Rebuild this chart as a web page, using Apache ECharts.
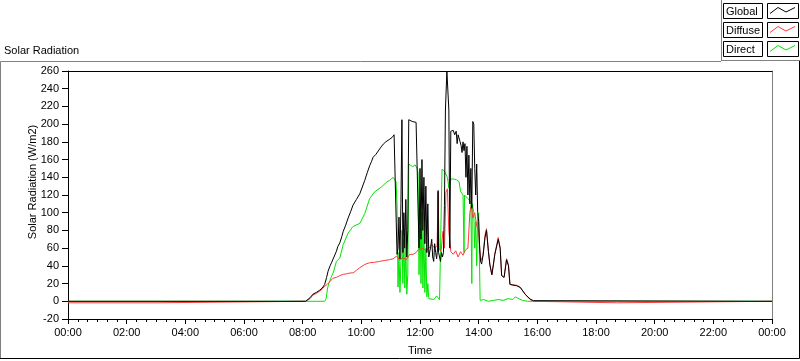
<!DOCTYPE html>
<html>
<head>
<meta charset="utf-8">
<script src="https://cdn.jsdelivr.net/npm/echarts@6/dist/echarts.min.js"></script>
<style>
  html, body { margin: 0; padding: 0; background: #fff; }
  #chart { width: 800px; height: 361px; }
</style>
</head>
<body>
<div id="chart"></div>
<script>
// time in minutes after midnight, values in W/m2
const globalTimes = [0, 486, 488, 495, 501, 508, 515, 520, 525, 529, 532, 536, 539, 544, 549, 552, 556, 560, 563, 568, 573, 578, 583, 590, 597, 602, 607, 612, 617, 621, 624, 630, 634, 640, 645, 650, 653, 658, 663, 667, 669, 671, 673,
  675, 677, 679, 681, 683, 685, 687, 689, 691, 693, 695, 697, 700, 704, 708, 712, 716, 718,
  720, 722, 724, 726, 728, 730, 732, 734, 736, 738, 740, 742, 744, 746, 748, 750, 752, 754, 756, 757, 758, 760, 762, 764, 766,
  768, 770, 772, 775, 777, 779, 781, 783, 785, 788, 791, 794, 796, 798, 800, 802, 804, 806, 808, 810, 812, 814, 816, 818, 820, 822, 824, 826, 828, 830, 832, 834, 836, 838, 840, 842, 844,
  846, 849, 853, 856, 860, 863, 867, 870, 873, 880, 884, 887, 892, 897, 901, 904, 908, 918, 925, 935, 945, 952, 955, 1440];
const globalValues = [0, 0, 0.5, 4, 8, 10, 12.6, 15, 19, 27, 34, 40, 43.5, 50, 56.5, 62, 66, 73, 79, 86, 94, 101, 108.6, 115, 121.6, 129, 136.5, 145, 153, 158, 162.6, 166, 168, 174, 177.5, 180, 182, 183, 185, 188, 189, 186, 53,
  60, 95, 48, 110, 205, 55, 100, 60, 115, 50, 80, 205, 206, 203, 205, 202, 200, 60,
  150, 70, 160, 80, 140, 65, 130, 55, 110, 50, 48, 62, 70, 50, 45, 65, 55, 48, 60, 125, 55, 50, 45, 55, 50,
  55, 108, 216, 260, 258, 216, 60, 192, 190, 193, 188, 192, 178, 188, 190, 180, 176, 168, 180, 170, 178, 140, 175, 120, 165, 110, 150, 105, 203, 200, 150, 120, 155, 100, 90, 60, 45,
  42, 52, 72, 80, 56, 41, 30, 41, 53, 70, 60, 29, 27, 47, 40, 19, 17.5, 17.5, 15.6, 8, 2.6, 0.7, 0, 0];

const diffuseTimes = [0, 180, 181, 486, 488, 495, 501, 508, 515, 520, 525, 530, 537, 542, 549, 556, 563, 570, 577, 583, 590, 597, 607, 617, 627, 637, 647, 658, 665, 672, 678, 685, 692, 699, 706, 712, 716, 720, 726, 732, 738, 744, 750, 755, 757, 759, 763, 767, 770, 773, 776, 779, 783,
  788, 793, 798, 803, 808, 813, 818, 822, 825, 828, 832, 836, 840, 844, 849, 853, 856, 860, 863, 867, 870, 873, 880, 884, 887, 892, 897, 901, 904, 908, 918, 925, 935, 945, 952, 955, 1122, 1124, 1440];
const diffuseValues = [-1.7, -1.7, 0, 0, 0, 3, 7, 9, 11.5, 14, 17, 19, 23, 26, 27, 29, 30.5, 31, 32, 32, 35, 38, 41.6, 43.5, 44, 45, 46, 47, 48, 51, 47, 49, 47, 53, 53, 55, 58, 56, 60, 57, 60, 64, 60, 63, 123, 60, 56, 79, 60, 123, 127, 79, 56,
  53, 57, 50, 56, 52, 58, 60, 100, 109, 94, 100, 85, 80, 45, 52, 75, 82, 56, 41, 30, 41, 53, 72, 60, 29, 27, 48, 41, 19, 18, 18, 16, 8, 2, 0, -1.7, -1.7, 0, 0];

const directTimes = [0, 525, 528, 531, 534, 539, 543, 549, 556, 563, 573, 583, 597, 607, 617, 627, 641, 652, 658, 665, 669, 671, 673,
  675, 677, 679, 681, 683, 685, 687, 689, 691, 693, 695, 697, 700, 705, 710, 714, 716, 718, 720, 722, 724, 726, 728, 730, 732, 734, 736, 738, 742, 748, 754, 760, 764,
  765, 770, 773, 776, 779, 781, 785, 790, 795, 800, 803, 806, 808, 810, 811, 814, 818, 821, 824, 826, 827, 830, 832, 834, 836, 838, 840, 842, 843,
  850, 860, 870, 880, 890, 900, 910, 915, 918, 922, 930, 940, 1440];
const directValues = [0, 0, 3, 15, 21, 28, 33, 45, 49, 64, 77, 84.5, 88, 99, 116, 123.5, 129, 134.7, 136.5, 140, 142, 135, 110,
  16, 55, 10, 45, 80, 20, 70, 15, 60, 8, 30, 155, 155, 152, 154, 150, 145, 30, 110, 20, 100, 15, 80, 10, 60, 5, 20, 3, 5, 2, 6, 2, 3,
  149, 147, 146, 140, 128, 138, 137, 138, 137, 135, 124, 122, 120, 55, 120, 118, 116, 115, 112, 20, 110, 100, 60, 90, 40, 95, 100, 100, 1,
  2, 0, 1, 2, 1, 3, 2, 5, 6, 3, 1, 0, 0];

const seriesNames = ['Global', 'Diffuse', 'Direct'];
const seriesColors = ['#000000', '#ff3c3c', '#00e600'];

const font = '"Liberation Sans", Arial, sans-serif';
const pair = (ts, vs) => ts.map((t, i) => [t, vs[i]]);

const fmtTime = (v) => {
  const m = Math.round(v) % 1440;
  return String(Math.floor(m / 60)).padStart(2, '0') + ':' + String(m % 60).padStart(2, '0');
};

// legend drawn like the original instrument panel (boxed label + boxed sample)
const legendGraphics = [
  { type: 'line', shape: { x1: 721.5, y1: 0, x2: 721.5, y2: 61 }, style: { stroke: '#808080', lineWidth: 1 } }
];
seriesNames.forEach((name, i) => {
  const y0 = 3.5 + i * 19;
  legendGraphics.push(
    { type: 'rect', shape: { x: 723.5, y: y0, width: 39, height: 15 }, style: { fill: '#fff', stroke: '#000', lineWidth: 1 } },
    { type: 'text', x: 726, y: y0 + 8, style: { text: name, font: '11px ' + font, fill: '#000', textVerticalAlign: 'middle' } },
    { type: 'rect', shape: { x: 767.5, y: y0, width: 31, height: 15 }, style: { fill: '#fff', stroke: '#000', lineWidth: 1 } },
    { type: 'polyline', shape: { points: [[770, y0 + 10], [778, y0 + 4], [786, y0 + 8.5], [795, y0 + 4]] }, style: { stroke: seriesColors[i], lineWidth: 1, fill: null } }
  );
});

const frameGraphics = [
  { type: 'polyline', shape: { points: [[0.5, 359], [0.5, 61.5], [721, 61.5]] }, style: { stroke: '#808080', lineWidth: 1, fill: null } },
  { type: 'line', shape: { x1: 721, y1: 60.5, x2: 800, y2: 60.5 }, style: { stroke: '#808080', lineWidth: 1 } },
  { type: 'polyline', shape: { points: [[0, 358.5], [799.5, 358.5], [799.5, 61]] }, style: { stroke: '#000', lineWidth: 1, fill: null } }
];

const chart = echarts.init(document.getElementById('chart'), null, { renderer: 'canvas' });

chart.setOption({
  animation: false,
  backgroundColor: '#fff',
  title: {
    text: 'Solar Radiation',
    left: 4,
    top: 45,
    padding: 0,
    textStyle: { fontSize: 11, fontWeight: 'normal', color: '#000', fontFamily: font }
  },
  grid: { left: 68, top: 71, right: 28, bottom: 39 },
  xAxis: [
    {
      type: 'value',
      min: 0,
      max: 1440,
      interval: 120,
      name: 'Time',
      nameLocation: 'middle',
      nameGap: 26,
      nameMoveOverlap: false,
      nameTextStyle: { fontSize: 11, color: '#000', fontFamily: font },
      axisLine: { onZero: false, lineStyle: { color: '#000', width: 1 } },
      axisTick: { length: 5, lineStyle: { color: '#000' } },
      minorTick: { show: true, splitNumber: 6, length: 3, lineStyle: { color: '#000' } },
      axisLabel: { margin: 8, fontSize: 11, color: '#000', fontFamily: font, formatter: fmtTime, showMaxLabel: true, showMinLabel: true },
      splitLine: { show: false }
    },
    {
      type: 'value',
      position: 'top',
      min: 0,
      max: 1440,
      axisLine: { onZero: false, lineStyle: { color: '#000', width: 1 } },
      axisTick: { show: false },
      axisLabel: { show: false },
      splitLine: { show: false }
    }
  ],
  yAxis: [
    {
      type: 'value',
      min: -20,
      max: 260,
      interval: 20,
      name: 'Solar Radiation (W/m2)',
      nameLocation: 'middle',
      nameGap: 30,
      nameMoveOverlap: false,
      nameTextStyle: { fontSize: 11, color: '#000', fontFamily: font, padding: [0, 0, 0, 26] },
      axisLine: { show: true, onZero: false, lineStyle: { color: '#000', width: 1 } },
      axisTick: { show: true, length: 6, lineStyle: { color: '#000' } },
      axisLabel: { margin: 9, fontSize: 11, color: '#000', fontFamily: font },
      splitLine: { show: false }
    },
    {
      type: 'value',
      position: 'right',
      min: -20,
      max: 260,
      axisLine: { show: true, onZero: false, lineStyle: { color: '#808080', width: 1 } },
      axisTick: { show: false },
      axisLabel: { show: false },
      splitLine: { show: false }
    }
  ],
  series: [
    {
      name: 'Direct',
      type: 'line',
      data: pair(directTimes, directValues),
      showSymbol: false,
      lineStyle: { color: seriesColors[2], width: 1 },
      itemStyle: { color: seriesColors[2] },
      z: 2
    },
    {
      name: 'Diffuse',
      type: 'line',
      data: pair(diffuseTimes, diffuseValues),
      showSymbol: false,
      lineStyle: { color: seriesColors[1], width: 1 },
      itemStyle: { color: seriesColors[1] },
      z: 3
    },
    {
      name: 'Global',
      type: 'line',
      data: pair(globalTimes, globalValues),
      showSymbol: false,
      lineStyle: { color: seriesColors[0], width: 1 },
      itemStyle: { color: seriesColors[0] },
      z: 4
    }
  ],
  graphic: frameGraphics.concat(legendGraphics)
});
</script>
</body>
</html>
